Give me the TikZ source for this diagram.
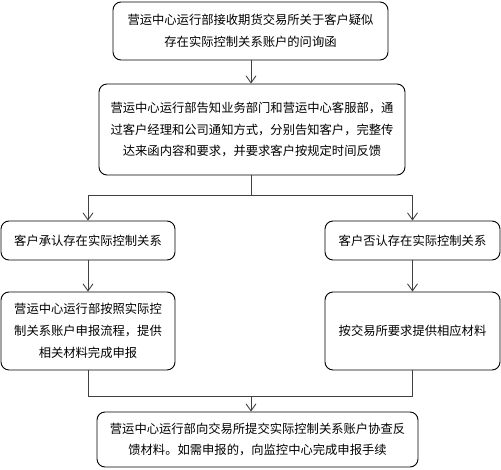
\documentclass[tikz,border=0pt]{standalone}
\usepackage{fontspec}
\setmainfont{Noto Sans CJK SC}
\usetikzlibrary{arrows.meta}
\begin{document}
\begin{tikzpicture}[x=1pt,y=-1pt,
  box/.style={draw=black,line width=0.9pt,rounded corners=8pt,inner sep=0pt,align=center,
    font=\fontsize{12.3}{21.7}\selectfont},
  conn/.style={draw=black!75,line width=0.9pt},
  arr/.style={conn,-{Straight Barb[length=7pt,width=10pt,line width=0.9pt]}}]
\useasboundingbox (0,0) rectangle (501,469);
\node[box,minimum width=275pt,minimum height=58pt] (b1) at (250.5,31) {营运中心运行部接收期货交易所关于客户疑似\\存在实际控制关系账户的问询函};
\node[box,minimum width=306pt,minimum height=91pt] (b2) at (252,129.5) {营运中心运行部告知业务部门和营运中心客服部，通\\过客户经理和公司通知方式，分别告知客户，完整传\\达来函内容和要求，并要求客户按规定时间反馈};
\node[box,minimum width=174pt,minimum height=39pt] (b3) at (88,240.5) {客户承认存在实际控制关系};
\node[box,minimum width=175pt,minimum height=39pt] (b4) at (412.5,240.5) {客户否认存在实际控制关系};
\node[box,minimum width=174pt,minimum height=78pt] (b5) at (88,331) {营运中心运行部按照实际控\\制关系账户申报流程，提供\\相关材料完成申报};
\node[box,minimum width=175pt,minimum height=78pt] (b6) at (412.5,331) {按交易所要求提供相应材料};
\node[box,minimum width=321pt,minimum height=55pt] (b7) at (257.5,439.5) {营运中心运行部向交易所提交实际控制关系账户协查反\\馈材料。如需申报的，向监控中心完成申报手续};
\coordinate (j1) at (251,195);
\coordinate (j2) at (251,396);
\draw[arr] (b1.south -| j1) -- (b2.north -| j1);
\draw[conn] (b2.south -| j1) -- (j1);
\draw[arr] (j1) -| (b3.north);
\draw[arr] (j1) -| (b4.north);
\draw[arr] (b3) -- (b5);
\draw[arr] (b4) -- (b6);
\draw[conn] (b5.south) |- (j2);
\draw[conn] (b6.south) |- (j2);
\draw[arr] (j2) -- (j2 |- b7.north);
\end{tikzpicture}
\end{document}
